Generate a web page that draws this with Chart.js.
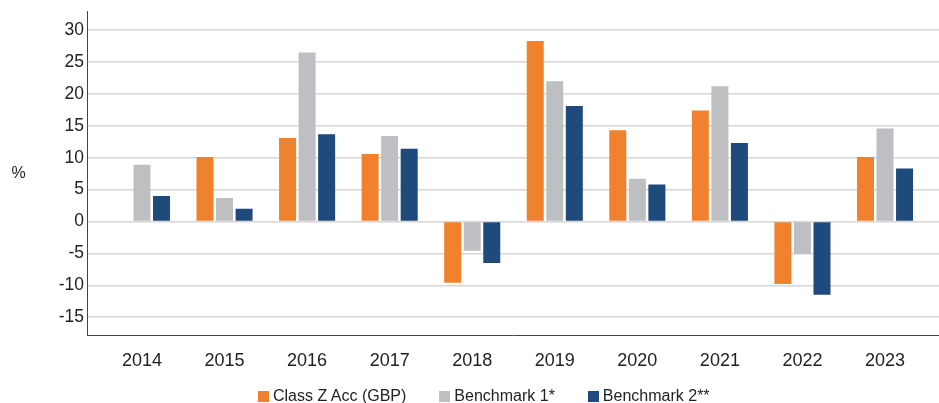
<!DOCTYPE html>
<html>
<head>
<meta charset="utf-8">
<script src="https://cdn.jsdelivr.net/npm/chart.js@4/dist/chart.umd.min.js"></script>
<style>
  html, body { margin: 0; padding: 0; background: #fff; }
  #wrap { width: 939px; height: 403px; position: relative; }
  #legend {
    position: absolute; left: 258px; top: 386px; height: 20px;
    display: flex; align-items: center;
    font: 16px 'Liberation Sans', Arial, sans-serif; color: #222;
    white-space: nowrap;
  }
  #legend .item { display: flex; align-items: center; margin-right: 33px; }
  #legend .box { width: 11px; height: 11px; margin-right: 4px; }
</style>
</head>
<body>
<div id="wrap">
  <canvas id="myChart"></canvas>
  <div id="legend"></div>
</div>
<script>
// data
const years = ["2014", "2015", "2016", "2017", "2018", "2019", "2020", "2021", "2022", "2023"];
const classZ = [null, 10.1, 13.1, 10.6, -9.6, 28.3, 14.3, 17.4, -9.8, 10.1];
const bench1 = [8.9, 3.7, 26.5, 13.4, -4.6, 22.0, 6.7, 21.2, -5.1, 14.6];
const bench2 = [4.0, 2.0, 13.7, 11.4, -6.5, 18.1, 5.8, 12.3, -11.5, 8.3];
const yTicks = [-15, -10, -5, 0, 5, 10, 15, 20, 25, 30];

const textColor = "#222";
const fontFamily = "'Liberation Sans', Arial, sans-serif";

function toPoints(arr) {
  return arr.map((v, i) => ({ x: i, y: v }));
}

// "%" sits horizontally left of the axis
const unitLabel = {
  id: "unitLabel",
  afterDraw(chart) {
    const ctx = chart.ctx;
    const area = chart.chartArea;
    ctx.save();
    ctx.font = "16px " + fontFamily;
    ctx.fillStyle = textColor;
    ctx.textAlign = "center";
    ctx.textBaseline = "middle";
    ctx.fillText("%", 18.5, (area.top + area.bottom) / 2);
    ctx.restore();
  }
};

const chart = new Chart("myChart", {
  type: "bar",
  data: {
    datasets: [
      { label: "Class Z Acc (GBP)", data: toPoints(classZ), backgroundColor: "#F0822E" },
      { label: "Benchmark 1*", data: toPoints(bench1), backgroundColor: "#BEBFC2" },
      { label: "Benchmark 2**", data: toPoints(bench2), backgroundColor: "#1F4A7C" }
    ]
  },
  options: {
    responsive: true,
    maintainAspectRatio: false,
    animation: false,
    categoryPercentage: 0.71,
    barPercentage: 0.87,
    layout: { padding: { top: 10, right: 0, left: 0, bottom: 30 } },
    plugins: {
      tooltip: { enabled: false },
      legend: { display: false }
    },
    scales: {
      x: {
        type: "linear",
        offset: false,
        min: -0.666,
        max: 9.654,
        afterBuildTicks: (scale) => { scale.ticks = years.map((y, i) => ({ value: i })); },
        afterFit: (scale) => { scale.height = 38; },
        grid: { display: false, drawTicks: false },
        border: { display: true, color: "#444", width: 1 },
        ticks: {
          autoSkip: false,
          maxRotation: 0,
          padding: 15,
          color: textColor,
          font: { size: 18, family: fontFamily },
          callback: (v) => years[v]
        }
      },
      y: {
        min: -17.8,
        max: 32.9,
        afterBuildTicks: (scale) => { scale.ticks = yTicks.map(v => ({ value: v })); },
        afterFit: (scale) => { scale.width = 87; },
        grid: { color: "#d6d6d6", lineWidth: 1.5, drawTicks: false },
        border: { display: true, color: "#444", width: 1 },
        ticks: {
          padding: 3,
          color: textColor,
          font: { size: 17.5, family: fontFamily, lineHeight: 1 }
        }
      }
    }
  },
  plugins: [unitLabel]
});

// html legend built from the datasets
const legendEl = document.getElementById("legend");
chart.data.datasets.forEach((ds) => {
  const item = document.createElement("div");
  item.className = "item";
  const box = document.createElement("span");
  box.className = "box";
  box.style.background = ds.backgroundColor;
  const txt = document.createElement("span");
  txt.textContent = ds.label;
  item.appendChild(box);
  item.appendChild(txt);
  legendEl.appendChild(item);
});
</script>
</body>
</html>
